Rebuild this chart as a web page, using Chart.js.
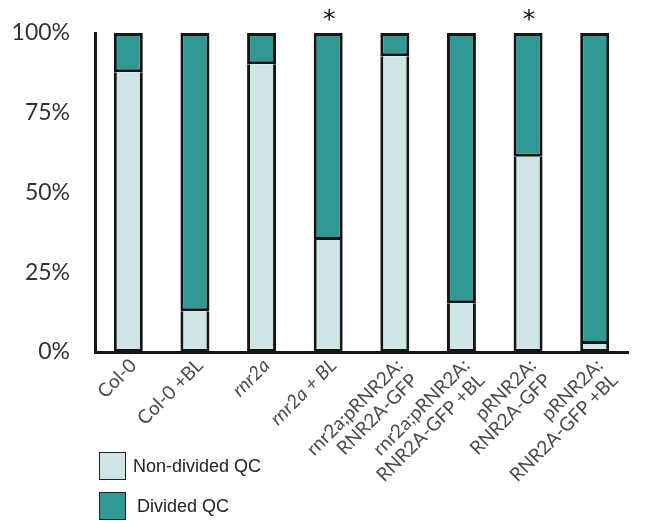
<!DOCTYPE html>
<html>
<head>
<meta charset="utf-8">
<script src="https://cdn.jsdelivr.net/npm/chart.js@4/dist/chart.umd.min.js"></script>
<style>
  html, body { margin: 0; padding: 0; background: #fff; }
  #wrap { position: relative; width: 645px; height: 521px; overflow: hidden; }
  #chart { position: absolute; left: 0; top: 0; }
  .legend { position: absolute; left: 0; top: 0; width: 645px; height: 521px; pointer-events: none;
            font-family: "Liberation Sans", Arial, sans-serif; font-size: 18px; color: #222; }
  .legend .box { position: absolute; width: 27px; height: 28px; border: 1.5px solid #222; box-sizing: border-box; }
  .legend .label { position: absolute; line-height: 20px; white-space: nowrap; }
</style>
</head>
<body>
<div id="wrap">
  <canvas id="chart" width="645" height="521"></canvas>
  <div class="legend" id="legend"></div>
</div>
<script>
// Genotypes / treatments along the x axis (multi-line labels as arrays)
const categories = [
  'Col-0',
  'Col-0 +BL',
  'rnr2a',
  'rnr2a + BL',
  ['rnr2a;pRNR2A:', 'RNR2A-GFP'],
  ['rnr2a;pRNR2A:', 'RNR2A-GFP +BL'],
  ['pRNR2A:', 'RNR2A-GFP'],
  ['pRNR2A:', 'RNR2A-GFP +BL']
];
// Percentage of roots with a non-divided / divided quiescent centre
const nonDividedQC = [87.7, 12.8, 90.2, 35.1, 92.7, 15.3, 61.2, 2.5];
const dividedQC    = [12.3, 87.2, 9.8, 64.9, 7.3, 84.7, 38.8, 97.5];
// Significance markers shown above the bars
const significance = ['', '', '', '*', '', '', '*', ''];
const yTicks = [0, 25, 50, 75, 100];
const italicLabels = [false, false, true, true, false, false, false, false];

const LIGHT = '#cde5e4';
const DARK = '#319894';
const EDGE = '#151515';

const starPlugin = {
  id: 'stars',
  afterDatasetsDraw(chart) {
    const { ctx, scales: { x } } = chart;
    ctx.save();
    ctx.fillStyle = '#111';
    ctx.font = '25px "DejaVu Sans", sans-serif';
    ctx.textAlign = 'center';
    ctx.textBaseline = 'alphabetic';
    significance.forEach((s, i) => {
      if (!s) return;
      ctx.fillText(s, x.getPixelForValue(i) + 1, 27);
    });
    ctx.restore();
  }
};

new Chart(document.getElementById('chart'), {
  type: 'bar',
  data: {
    labels: categories,
    datasets: [
      {
        label: 'Non-divided QC',
        data: nonDividedQC,
        backgroundColor: LIGHT,
        borderColor: EDGE,
        borderWidth: 3,
        borderSkipped: 'top',
        barPercentage: 0.435,
        categoryPercentage: 1
      },
      {
        label: 'Divided QC',
        data: dividedQC,
        backgroundColor: DARK,
        borderColor: EDGE,
        borderWidth: 3,
        borderSkipped: false,
        barPercentage: 0.435,
        categoryPercentage: 1
      }
    ]
  },
  options: {
    responsive: false,
    animation: false,
    layout: { padding: { top: 33, right: 17, left: 0, bottom: 0 } },
    plugins: { legend: { display: false }, tooltip: { enabled: false } },
    scales: {
      x: {
        stacked: true,
        grid: { display: false, drawTicks: false },
        border: { display: true, color: EDGE, width: 3 },
        ticks: {
          autoSkip: false,
          minRotation: 45,
          maxRotation: 45,
          padding: 3,
          labelOffset: 5,
          color: '#4a4a4a',
          font: (ctx) => ({
            family: 'Lato, "Open Sans", sans-serif',
            size: 19,
            lineHeight: 1.1,
            style: italicLabels[ctx.index] ? 'italic' : 'normal'
          })
        },
        afterFit(scale) { scale.height = 169; }
      },
      y: {
        stacked: true,
        min: 0,
        max: 100,
        // tick marks are hidden; their length only spaces the labels from the axis
        grid: { display: false, drawTicks: true, tickLength: 25 },
        border: { display: true, color: EDGE, width: 3 },
        afterBuildTicks(scale) { scale.ticks = yTicks.map(v => ({ value: v })); },
        ticks: {
          padding: 0,
          color: '#333',
          font: { family: 'Lato, "Open Sans", sans-serif', size: 23 },
          callback: (v) => v + '%'
        },
        afterFit(scale) { scale.width = 95; }
      }
    }
  },
  plugins: [starPlugin]
});

// Legend below the plot
const legendItems = [
  { text: 'Non-divided QC', color: LIGHT, top: 452, textLeft: 133 },
  { text: 'Divided QC', color: DARK, top: 492, textLeft: 137 }
];
const legend = document.getElementById('legend');
legendItems.forEach(it => {
  const box = document.createElement('div');
  box.className = 'box';
  box.style.left = '99px';
  box.style.top = it.top + 'px';
  box.style.background = it.color;
  legend.appendChild(box);
  const lab = document.createElement('div');
  lab.className = 'label';
  lab.style.left = it.textLeft + 'px';
  lab.style.top = (it.top + 4) + 'px';
  lab.textContent = it.text;
  legend.appendChild(lab);
});
</script>
</body>
</html>
